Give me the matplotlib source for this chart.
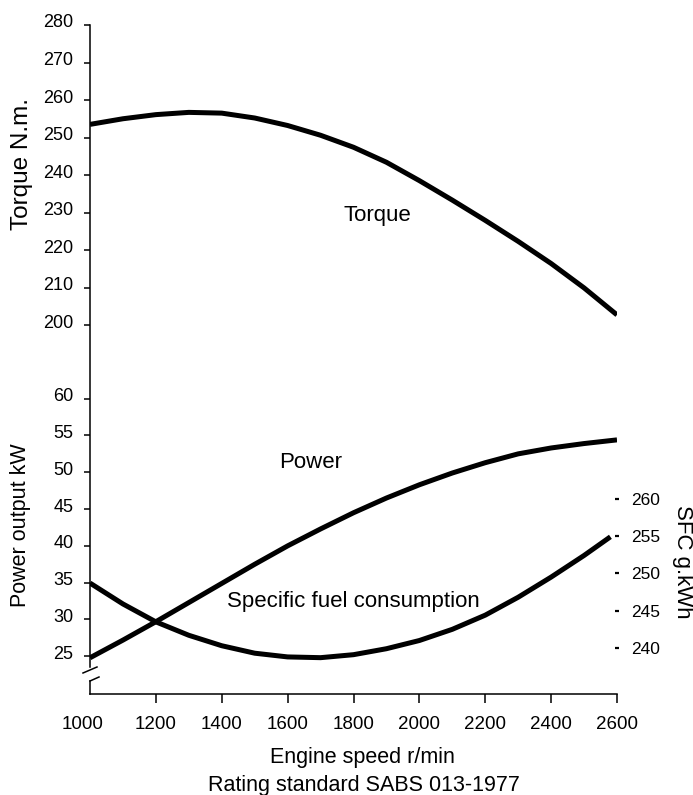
import matplotlib

matplotlib.use("Agg")

import matplotlib.pyplot as plt  # noqa: E402
import matplotlib.transforms as mtransforms  # noqa: E402

plt.rcParams["font.family"] = ["Liberation Sans", "DejaVu Sans"]

# engine speed (r/min)
rpm = [1000, 1100, 1200, 1300, 1400, 1500, 1600, 1700, 1800,
       1900, 2000, 2100, 2200, 2300, 2400, 2500, 2600]
torque = [253.5, 255.0, 256.1, 256.7, 256.5, 255.2, 253.2, 250.6, 247.4,
          243.4, 238.5, 233.3, 227.9, 222.3, 216.4, 209.9, 202.7]
power = [24.8, 27.2, 29.7, 32.3, 34.9, 37.5, 40.0, 42.3, 44.5,
         46.5, 48.3, 49.9, 51.3, 52.5, 53.3, 53.9, 54.4]
rpm_sfc = [1000, 1100, 1200, 1300, 1400, 1500, 1600, 1700, 1800,
           1900, 2000, 2100, 2200, 2300, 2400, 2500, 2580]
sfc = [248.7, 245.9, 243.5, 241.7, 240.3, 239.3, 238.8, 238.7, 239.1,
       239.9, 241.0, 242.5, 244.4, 246.8, 249.5, 252.4, 254.9]

torque_ticks = [200, 210, 220, 230, 240, 250, 260, 270, 280]
power_ticks = [25, 30, 35, 40, 45, 50, 55, 60]
sfc_ticks = [240, 245, 250, 255, 260]
rpm_ticks = [1000, 1200, 1400, 1600, 1800, 2000, 2200, 2400, 2600]

W, H = 693, 795
fig = plt.figure(figsize=(W / 100, H / 100), dpi=100)

x0, x1 = 90, 617          # pixel extent of the speed axis
top_t, mid, bot = 25, 360, 694


def frac(y_top, y_bot):
    return [x0 / W, 1 - y_bot / H, (x1 - x0) / W, (y_bot - y_top) / H]


def fpos(px, py):
    return px / W, 1 - py / H


ax_t = fig.add_axes(frac(top_t, mid))
ax_p = fig.add_axes(frac(mid, bot))
ax_s = ax_p.twinx()

line = dict(color="black", lw=3.6, solid_capstyle="butt",
            solid_joinstyle="round")
ax_t.plot(rpm, torque, **line)
ax_p.plot(rpm, power, **line)
ax_s.plot(rpm_sfc, sfc, **line)

for ax in (ax_t, ax_p, ax_s):
    ax.set_xlim(1000, 2600)
    for s in ("top", "right", "left"):
        ax.spines[s].set_visible(False)
    ax.patch.set_visible(False)

ax_t.set_ylim(190.67, 280)
ax_p.set_ylim(19.88, 65.25)
ax_s.set_ylim(233.83, 278.6)

# torque scale
ax_t.spines["bottom"].set_visible(False)
ax_t.set_xticks([])
ax_t.set_yticks(torque_ticks)
ax_t.tick_params(axis="y", direction="out", length=4, width=1.1, pad=8,
                 labelsize=13)

# power scale and speed axis
ax_p.spines["bottom"].set_linewidth(1.1)
ax_p.set_yticks(power_ticks)
ax_p.tick_params(axis="y", direction="out", length=4, width=1.1, pad=8,
                 labelsize=13)
ax_p.set_xticks(rpm_ticks)
ax_p.tick_params(axis="x", direction="out", length=6.5, width=1.1, pad=9,
                 labelsize=13.5)
ax_p.xaxis.get_major_ticks()[0].tick1line.set_visible(False)

# one continuous left axis line, broken just above the speed axis
hbr = bot - mid
kw = dict(transform=ax_p.transAxes, color="black", lw=1.1, clip_on=False)
ax_p.plot([0, 0], [(bot - 667) / hbr, (bot - top_t) / hbr], **kw)
ax_p.plot([0, 0], [0, (bot - 681) / hbr], **kw)
ax_p.plot([-7 / 527, 7 / 527], [(bot - 673) / hbr, (bot - 667) / hbr], **kw)
ax_p.plot([0, 9 / 527], [(bot - 681) / hbr, (bot - 677) / hbr], **kw)

# left tick labels sit a little above their ticks in the source
up = mtransforms.ScaledTranslation(0, 4 / 100, fig.dpi_scale_trans)
for ax in (ax_t, ax_p):
    for lab in ax.get_yticklabels():
        lab.set_transform(lab.get_transform() + up)
first = ax_p.get_xticklabels()[0]
first.set_transform(first.get_transform() +
                    mtransforms.ScaledTranslation(-7 / 100, 0,
                                                  fig.dpi_scale_trans))

# SFC scale on the right, no spine
ax_s.spines["bottom"].set_visible(False)
ax_s.set_yticks(sfc_ticks)
ax_s.tick_params(axis="y", right=True, left=False, labelright=True,
                 labelleft=False, direction="inout", length=3, width=1.6,
                 pad=9, labelsize=12.5)

# axis titles
fig.text(*fpos(22, 164), "Torque N.m.", fontsize=17.5, rotation=90,
         ha="center", va="center")
fig.text(*fpos(21, 525), "Power output kW", fontsize=15.5, rotation=90,
         ha="center", va="center")
fig.text(*fpos(682, 562), "SFC g.kWh", fontsize=16, rotation=270,
         ha="center", va="center")
fig.text(*fpos(362, 758), "Engine speed r/min", fontsize=15.5,
         ha="center", va="center")
fig.text(*fpos(364, 785), "Rating standard SABS 013-1977", fontsize=15.5,
         ha="center", va="center")

# curve names
ax_t.text(1871, 229.1, "Torque", fontsize=16, ha="center", va="center")
ax_p.text(1671, 51.3, "Power", fontsize=16, ha="center", va="center")
ax_p.text(1800, 32.5, "Specific fuel consumption", fontsize=16,
          ha="center", va="center")

fig.savefig("out.png", dpi=100)
